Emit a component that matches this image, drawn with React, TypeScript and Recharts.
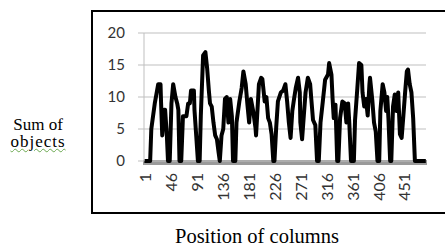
import { LineChart, Line, XAxis, YAxis, CartesianGrid } from 'recharts';

// column positions sampled along the x axis, and the sum of objects at each
const positions = [
  0, 10, 12, 18, 24, 28, 29, 31, 34, 36, 39, 41, 44, 47, 50, 54, 57, 59, 61, 64,
  67, 73, 76, 79, 81, 86, 87, 90, 93, 96, 98, 102, 106, 109, 112, 114, 117, 120, 123, 126,
  129, 131, 134, 137, 140, 143, 146, 149, 152, 154, 158, 160, 165, 169, 172, 176, 179, 182, 185, 189,
  193, 194, 199, 203, 205, 209, 212, 215, 218, 221, 224, 226, 229, 232, 237, 241, 245, 248, 251, 254,
  257, 260, 263, 267, 270, 271, 274, 277, 280, 284, 288, 290, 293, 297, 300, 303, 306, 310, 314, 319,
  321, 325, 327, 329, 332, 335, 337, 340, 344, 348, 351, 354, 356, 359, 364, 366, 370, 373, 377, 379,
  382, 385, 388, 391, 392, 396, 399, 402, 405, 408, 410, 414, 417, 420, 422, 424, 427, 429, 432, 435,
  438, 441, 444, 447, 450, 453, 456, 458, 461, 464, 467, 470, 489,
];
const sums = [
  0, 0, 5, 9, 12, 12, 9, 4, 8, 8, 4, 0, 0, 9, 12, 10, 9, 8, 0, 0,
  7, 7, 9, 9, 11, 11, 8, 4, 0, 0, 7, 16.5, 17, 14.5, 11, 9, 8.5, 6, 4, 3.4,
  1.3, 0, 4, 5, 9.7, 10, 6, 9.7, 7, 0, 0, 6, 9.3, 11.4, 14, 12, 8.8, 6, 9.7, 7.8,
  5.2, 4, 12, 13, 12.8, 9.3, 10, 6.7, 6, 4.2, 0, 0, 5.2, 9.3, 10.7, 11, 12, 9.3, 6, 3.6,
  7.8, 9.7, 11.4, 13, 10.7, 6, 3.4, 7.1, 10.7, 13, 12, 9.7, 6.4, 5.6, 0, 0, 6, 9.3, 12.7, 13.5,
  15.3, 13.5, 9.7, 6.7, 8.8, 0, 0, 6.7, 9.3, 9, 6, 9, 6, 0, 0, 6.4, 11.4, 15.3, 15, 10.7,
  8.5, 9.7, 7.1, 12, 13, 9.5, 6, 4.6, 0, 0, 7.8, 12, 10.7, 7.8, 10, 6.7, 0, 0, 8.5, 10.4,
  7.8, 10.7, 4.2, 3.6, 7.1, 10.7, 14, 14.3, 12, 10.7, 6.7, 0, 0,
];
const xTicks = [1, 46, 91, 136, 181, 226, 271, 316, 361, 406, 451];
const yTicks = [0, 5, 10, 15, 20];

const data = positions.map((p, i) => ({ pos: p, sum: sums[i] }));

const tickFont = 'Lato, "Open Sans", sans-serif';
const serif = '"Liberation Serif", "DejaVu Serif", serif';

function RotatedTick({ x, y, payload }: any) {
  const ty = y + 4;
  return (
    <text
      x={x}
      y={ty}
      transform={`rotate(-90, ${x}, ${ty})`}
      textAnchor="end"
      dominantBaseline="central"
      fontSize={16}
      fontFamily={tickFont}
      fill="#333"
    >
      {payload.value}
    </text>
  );
}

export default function App() {
  return (
    <div style={{ position: 'absolute', left: 0, top: 0, width: 445, height: 243, overflow: 'hidden', background: '#fff' }}>
      <div
        style={{
          position: 'absolute',
          left: 91,
          top: 10,
          width: 360,
          height: 204,
          border: '2px solid #000',
          boxSizing: 'border-box',
        }}
      />
      {/* thick grey base under the series */}
      <div style={{ position: 'absolute', left: 143, top: 160, width: 284, height: 5, background: '#9a9a9a' }} />
      <div style={{ position: 'absolute', left: 0, top: 0 }}>
        <LineChart width={445} height={243} data={data} margin={{ top: 33, right: 19, bottom: 22, left: 0 }}>
          <CartesianGrid vertical={false} stroke="#bfbfbf" />
          <XAxis
            dataKey="pos"
            type="number"
            domain={[-0.7, 489.3]}
            ticks={xTicks}
            interval={0}
            height={60}
            tickLine={false}
            axisLine={false}
            tick={<RotatedTick />}
            allowDataOverflow
          />
          <YAxis
            type="number"
            domain={[0, 20]}
            ticks={yTicks}
            width={144}
            tickSize={6}
            tickMargin={13}
            tickLine={{ stroke: '#bfbfbf' }}
            axisLine={{ stroke: '#bfbfbf' }}
            tick={{ fontSize: 15, fontFamily: tickFont, fill: '#333' }}
          />
          <Line
            type="linear"
            dataKey="sum"
            stroke="#000"
            strokeWidth={4}
            strokeLinejoin="round"
            dot={false}
            isAnimationActive={false}
          />
        </LineChart>
      </div>
      <div
        style={{
          position: 'absolute',
          left: 0,
          top: 116,
          width: 76,
          textAlign: 'center',
          fontFamily: serif,
          fontSize: 17,
          lineHeight: '17px',
          color: '#000',
        }}
      >
        <div>Sum of</div>
        <div style={{ letterSpacing: 1, textDecoration: 'underline wavy #6aa84f', textDecorationThickness: 1 }}>objects</div>
      </div>
      <div
        style={{
          position: 'absolute',
          left: 0,
          top: 225,
          width: 514,
          textAlign: 'center',
          fontFamily: serif,
          fontSize: 20.5,
          lineHeight: '22px',
          color: '#000',
          whiteSpace: 'nowrap',
        }}
      >
        Position of columns
      </div>
    </div>
  );
}
